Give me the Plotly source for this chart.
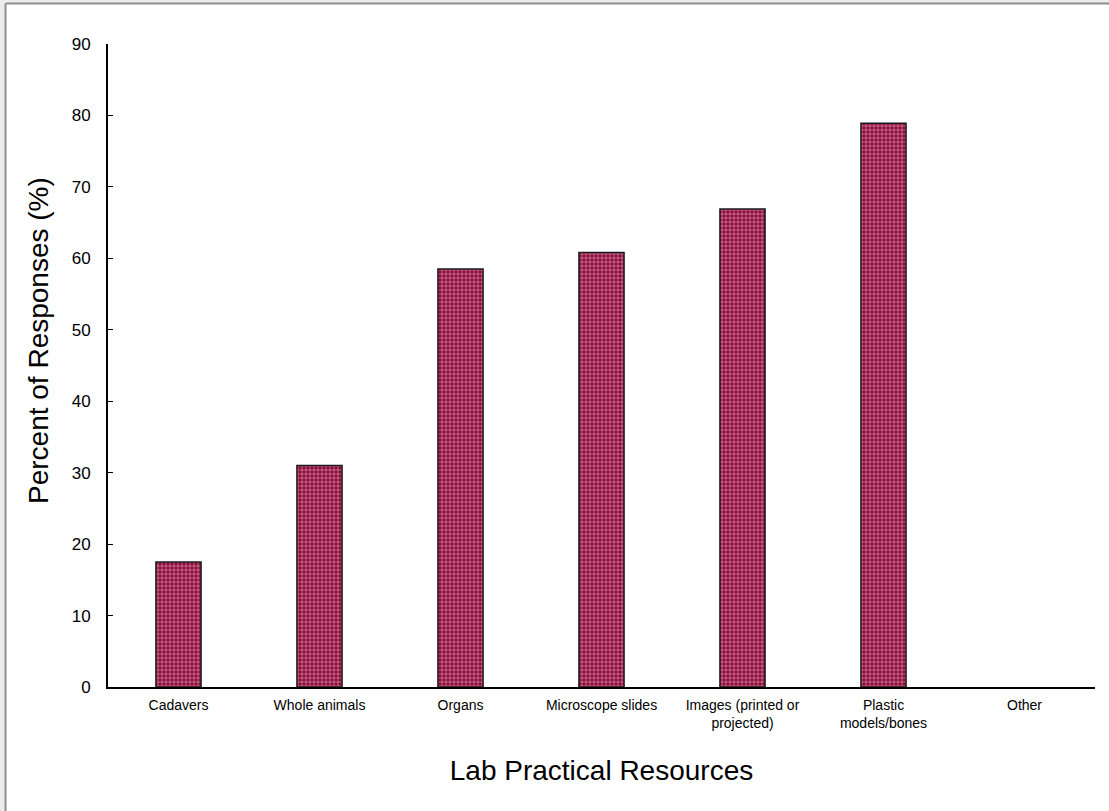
import plotly.graph_objects as go

# Survey results: share of respondents using each lab practical resource
categories = [
    "Cadavers",
    "Whole animals",
    "Organs",
    "Microscope slides",
    "Images (printed or<br>projected)",
    "Plastic<br>models/bones",
    "Other",
]
percent_responses = [17.5, 31.0, 58.5, 60.8, 66.9, 78.9, 0.0]
y_ticks = [0, 10, 20, 30, 40, 50, 60, 70, 80, 90]

W, H = 1109, 811
ML, MR, MT, MB = 108, 14, 44, 124
PW, PH = W - ML - MR, H - MT - MB


def px_x(px):
    return (px - ML) / PW


def px_y(py):
    return (H - MB - py) / PH


# empty categories get no outline so nothing is drawn on the axis
outline_widths = [1.5 if v > 0 else 0 for v in percent_responses]

fig = go.Figure()
fig.add_trace(
    go.Bar(
        x=categories,
        y=percent_responses,
        width=0.32,
        marker=dict(
            color="#8c0a3a",
            line=dict(color="#1a1a1a", width=outline_widths),
            pattern=dict(
                shape="+",
                fgcolor="#eab4c6",
                bgcolor="#8c0a3a",
                size=4,
                solidity=0.25,
                fillmode="replace",
            ),
        ),
        showlegend=False,
    )
)

font_family = "Liberation Sans, Arial, sans-serif"

fig.update_layout(
    width=W,
    height=H,
    margin=dict(l=ML, r=MR, t=MT, b=MB),
    paper_bgcolor="white",
    plot_bgcolor="white",
    font=dict(family=font_family, color="black"),
    xaxis=dict(
        showline=True,
        linecolor="black",
        linewidth=2,
        ticks="",
        showgrid=False,
        tickfont=dict(size=14),
        ticklabelstandoff=4,
        title=dict(text="Lab Practical Resources", font=dict(size=28), standoff=30),
    ),
    yaxis=dict(
        range=[0, 90],
        tickvals=y_ticks,
        showline=True,
        linecolor="black",
        linewidth=2,
        ticks="inside",
        ticklen=5,
        tickwidth=1,
        tickcolor="black",
        showgrid=False,
        zeroline=False,
        tickfont=dict(size=17),
        ticklabelstandoff=12,
    ),
    annotations=[
        dict(
            text="Percent of Responses (%)",
            xref="paper", yref="paper",
            x=px_x(38), y=px_y(341),
            xanchor="center", yanchor="middle",
            textangle=-90, showarrow=False,
            font=dict(size=28),
        )
    ],
    shapes=[
        # soft frame shadow and border along the left and top edges
        dict(type="rect", xref="paper", yref="paper",
             x0=px_x(0), x1=px_x(5), y0=px_y(H), y1=px_y(0),
             fillcolor="#ececec", line=dict(width=0), layer="below"),
        dict(type="rect", xref="paper", yref="paper",
             x0=px_x(0), x1=px_x(W), y0=px_y(3), y1=px_y(0),
             fillcolor="#ececec", line=dict(width=0), layer="below"),
        dict(type="line", xref="paper", yref="paper",
             x0=px_x(5.5), x1=px_x(5.5), y0=px_y(H), y1=px_y(3.5),
             line=dict(color="#8e8e8e", width=2)),
        dict(type="line", xref="paper", yref="paper",
             x0=px_x(5.5), x1=px_x(W), y0=px_y(3.5), y1=px_y(3.5),
             line=dict(color="#8e8e8e", width=2)),
    ],
)

fig.write_html("out.html")
